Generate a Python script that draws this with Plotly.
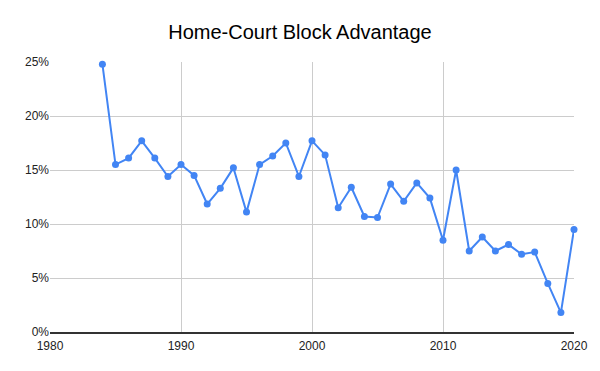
import plotly.graph_objects as go

years = list(range(1984, 2021))
advantage = [24.8, 15.5, 16.1, 17.7, 16.1, 14.4, 15.5, 14.5, 11.85, 13.3,
             15.2, 11.1, 15.5, 16.3, 17.5, 14.4, 17.7, 16.4, 11.5, 13.4,
             10.7, 10.6, 13.7, 12.1, 13.8, 12.4, 8.5, 15.0, 7.5, 8.8,
             7.5, 8.1, 7.2, 7.4, 4.5, 1.8, 9.5]
advantage = [v / 100 for v in advantage]
x_ticks = [1980, 1990, 2000, 2010, 2020]
y_ticks = [0, 0.05, 0.10, 0.15, 0.20, 0.25]
y_labels = ["0%", "5%", "10%", "15%", "20%", "25%"]

fig = go.Figure()
fig.add_trace(go.Scatter(
    x=years, y=advantage, mode="lines+markers",
    line=dict(color="#4285F4", width=2),
    marker=dict(color="#4285F4", size=7),
    cliponaxis=False, showlegend=False,
))
fig.update_layout(
    width=600, height=371,
    margin=dict(l=50, r=24, t=62, b=39),
    paper_bgcolor="white", plot_bgcolor="white",
    title=dict(text="Home-Court Block Advantage", x=0.5, xanchor="center",
               y=0.915, yanchor="middle",
               font=dict(family="Liberation Sans, Arial", size=20, color="#000000")),
    font=dict(family="Liberation Sans, Arial", size=12, color="#222222"),
)
fig.update_xaxes(range=[1980, 2020], tickvals=x_ticks, ticktext=[str(t) for t in x_ticks],
                 showgrid=True, gridcolor="#cccccc", gridwidth=1,
                 showline=True, linecolor="#333333", linewidth=1.5,
                 zeroline=False, ticks="", ticklabelstandoff=2)
fig.update_yaxes(range=[0, 0.25], tickvals=y_ticks, ticktext=y_labels,
                 showgrid=True, gridcolor="#cccccc", gridwidth=1,
                 showline=False, zeroline=False, ticks="")
fig.write_html("out.html")
